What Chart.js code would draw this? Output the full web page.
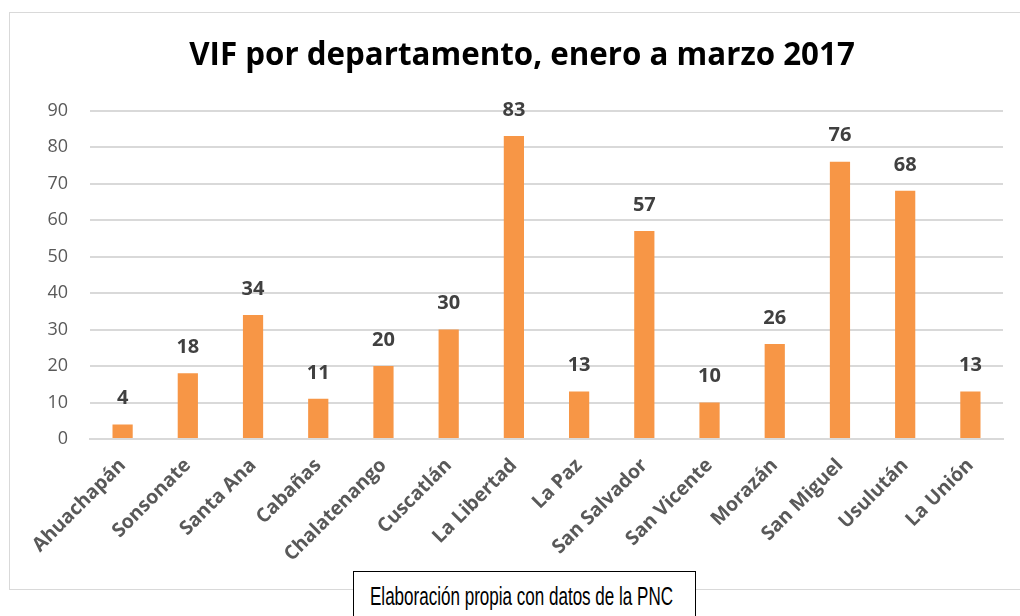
<!DOCTYPE html>
<html>
<head>
<meta charset="utf-8">
<script src="https://cdn.jsdelivr.net/npm/chart.js@4"></script>
<style>
  html, body { margin: 0; padding: 0; background: #fff; }
  #wrap { position: relative; width: 1020px; height: 616px; overflow: hidden; }
  #note {
    position: absolute; left: 353px; top: 571px; width: 343px; height: 60px;
    border: 1px solid #000; background: #fff; box-sizing: border-box;
    padding: 10px 0 0 16px; white-space: nowrap;
  }
  #note span {
    display: inline-block; transform-origin: 0 0;
    font-family: "Liberation Sans Narrow", "Liberation Sans", Arial, sans-serif;
    font-size: 25px; color: #000;
  }
</style>
</head>
<body>
<div id="wrap">
  <canvas id="vifChart" width="1020" height="616"></canvas>
  <div id="note"><span id="noteText">Elaboración propia con datos de la PNC</span></div>
</div>
<script>
const departamentos = ['Ahuachapán', 'Sonsonate', 'Santa Ana', 'Cabañas', 'Chalatenango', 'Cuscatlán',
  'La Libertad', 'La Paz', 'San Salvador', 'San Vicente', 'Morazán', 'San Miguel', 'Usulután', 'La Unión'];
const casos = [4, 18, 34, 11, 20, 30, 83, 13, 57, 10, 26, 76, 68, 13];
const tituloGrafico = 'VIF por departamento, enero a marzo 2017';

const fontFamily = '"Open Sans", "Noto Sans", sans-serif';

// la nota usa letra estrecha: ajustar el ancho a ~303px
const nota = document.getElementById('noteText');
nota.style.transform = 'scaleX(' + (303 / nota.getBoundingClientRect().width) + ')';

// marco gris del gráfico
const marco = {
  id: 'marco',
  beforeDraw(chart) {
    const ctx = chart.ctx;
    ctx.save();
    ctx.fillStyle = '#fff';
    ctx.fillRect(0, 0, chart.width, chart.height);
    ctx.strokeStyle = '#d9d9d9';
    ctx.lineWidth = 1;
    ctx.strokeRect(9.5, 12.5, 1030, 577);
    ctx.restore();
  }
};

// etiquetas de valor encima de cada barra
const etiquetas = {
  id: 'etiquetas',
  afterDatasetsDraw(chart) {
    const ctx = chart.ctx;
    const meta = chart.getDatasetMeta(0);
    ctx.save();
    ctx.font = 'bold 20px ' + fontFamily;
    ctx.fillStyle = '#404040';
    ctx.textAlign = 'center';
    ctx.textBaseline = 'middle';
    meta.data.forEach((bar, i) => {
      ctx.fillText(casos[i], bar.x, bar.y - 26);
    });
    ctx.restore();
  }
};

new Chart(document.getElementById('vifChart'), {
  type: 'bar',
  data: {
    labels: departamentos,
    datasets: [{
      data: casos,
      backgroundColor: '#f79646',
      barPercentage: 0.62,
      categoryPercentage: 0.5
    }]
  },
  options: {
    responsive: false,
    animation: false,
    layout: { padding: { left: 41, right: 17, top: 0, bottom: 0 } },
    plugins: {
      legend: { display: false },
      tooltip: { enabled: false },
      title: {
        display: true,
        text: tituloGrafico,
        color: '#000',
        font: { family: fontFamily, size: 31.3, weight: 'bold', lineHeight: 1.2 },
        padding: { top: 37, bottom: 36 }
      }
    },
    scales: {
      x: {
        grid: { display: false, drawTicks: false },
        border: { color: '#d9d9d9', width: 2 },
        ticks: {
          color: '#595959',
          font: { family: fontFamily, size: 19.5, weight: 'bold' },
          minRotation: 45, maxRotation: 45, autoSkip: false, padding: 15
        },
        afterFit: s => { s.height = 177; }
      },
      y: {
        min: 0, max: 90,
        grid: { color: '#d9d9d9', lineWidth: 2, drawTicks: false },
        border: { display: false },
        ticks: {
          stepSize: 10,
          color: '#595959',
          font: { family: fontFamily, size: 18 },
          padding: 22
        },
        afterFit: s => { s.width = 49; }
      }
    }
  },
  plugins: [marco, etiquetas]
});
</script>
</body>
</html>
